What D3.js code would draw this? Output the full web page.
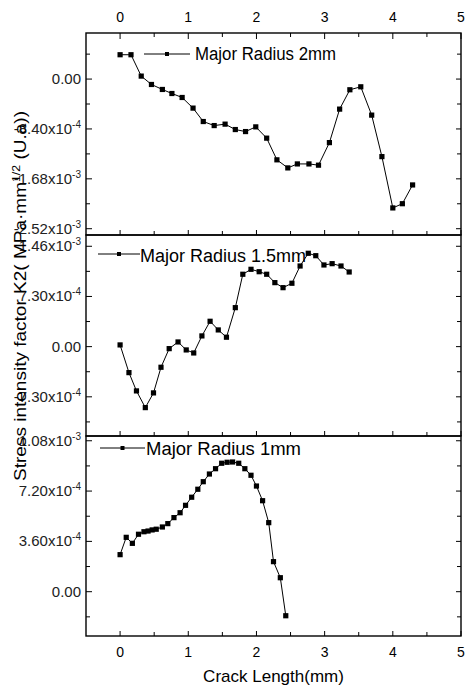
<!DOCTYPE html>
<html>
<head>
<meta charset="utf-8">
<script src="https://cdn.jsdelivr.net/npm/d3@7"></script>
<style>
  body { margin: 0; background: #fff; }
  svg { font-family: "Liberation Sans", Arial, sans-serif; }
</style>
</head>
<body>
<svg width="465" height="690"></svg>
<script>
// crack length (mm) and K2 values (x1e-4)
const xs2mm = [0, 0.16, 0.31, 0.46, 0.62, 0.76, 0.91, 1.07, 1.22, 1.38, 1.54, 1.69, 1.84, 1.99, 2.15, 2.30, 2.46, 2.60, 2.77, 2.91, 3.07, 3.22, 3.37, 3.53, 3.69, 3.84, 4.00, 4.14, 4.29];
const k2mm = [4.10, 4.10, 0.5, -0.91, -1.75, -2.43, -3.10, -4.89, -7.15, -7.83, -7.59, -8.50, -8.84, -8.05, -9.95, -13.6, -14.96, -14.29, -14.29, -14.5, -10.7, -5.06, -1.8, -1.3, -6.07, -13.06, -21.7, -20.99, -17.83];

const xs15mm = [0, 0.13, 0.24, 0.37, 0.49, 0.60, 0.72, 0.85, 0.97, 1.08, 1.20, 1.32, 1.44, 1.56, 1.69, 1.80, 1.92, 2.04, 2.15, 2.27, 2.39, 2.52, 2.64, 2.76, 2.87, 2.99, 3.11, 3.24, 3.36];
const k15mm = [0.25, -3.78, -6.44, -8.87, -6.73, -3.0, -0.29, 0.68, -0.48, -0.92, 1.56, 3.69, 2.43, 1.37, 5.67, 10.53, 11.25, 10.9, 10.53, 9.31, 8.58, 9.22, 11.73, 13.58, 13.23, 11.88, 12.07, 11.73, 10.86];

const xs1mm = [0, 0.09, 0.18, 0.27, 0.35, 0.41, 0.47, 0.53, 0.62, 0.70, 0.79, 0.88, 0.96, 1.05, 1.14, 1.22, 1.31, 1.40, 1.49, 1.57, 1.65, 1.74, 1.83, 1.92, 2.00, 2.09, 2.18, 2.25, 2.35, 2.43];
const k1mm = [2.65, 3.89, 3.46, 4.11, 4.29, 4.34, 4.42, 4.47, 4.63, 4.87, 5.30, 5.65, 6.18, 6.76, 7.33, 7.87, 8.42, 8.80, 9.19, 9.26, 9.28, 9.19, 8.80, 8.33, 7.56, 6.51, 4.94, 2.15, 1.00, -1.72];

// axis ticks
const xTicks = [0, 1, 2, 3, 4, 5];
const xMinor = [0.5, 1.5, 2.5, 3.5, 4.5];
const yTicks2mm = [0, -8.4e-4, -1.68e-3, -2.52e-3];
const yTicks15mm = [1.46e-3, 7.3e-4, 0, -7.3e-4];
const yTicks1mm = [1.08e-3, 7.2e-4, 3.6e-4, 0];

const legendNames = ["Major Radius 2mm", "Major Radius 1.5mm", "Major Radius 1mm"];

let svg = d3.select("svg");
let left = 86, right = 461;

let x = d3.scaleLinear().domain([-0.5, 5]).range([left, right]);

let panels = [
  { xs: xs2mm, ys: k2mm, top: 33, bottom: 235, dom: [-2.626e-3, 7.76e-4], ticks: yTicks2mm,
    leg: { y: 54, x0: 144, x1: 190, tx: 195, ty: 60, len: 141 } },
  { xs: xs15mm, ys: k15mm, top: 235, bottom: 436, dom: [-1.30e-3, 1.624e-3], ticks: yTicks15mm,
    leg: { y: 254, x0: 98, x1: 140, tx: 140, ty: 262, len: 166 } },
  { xs: xs1mm, ys: k1mm, top: 436, bottom: 636, dom: [-3.17e-4, 1.114e-3], ticks: yTicks1mm,
    leg: { y: 448, x0: 100, x1: 145, tx: 146, ty: 455, len: 155 } }
];

// "x10^n" style label
function fmtLabel(sel) {
  sel.each(function(v) {
    let t = d3.select(this);
    if (v === 0) { t.text("0.00"); return; }
    let [m, e] = v.toExponential(2).split("e");
    t.append("tspan").text(m + "x10");
    t.append("tspan").attr("dy", -6).style("font-size", "10px").text(String(+e));
  });
}

panels.forEach((p, i) => {
  let y = d3.scaleLinear().domain(p.dom).range([p.bottom, p.top]);
  let step = p.ticks[0] - p.ticks[1];
  let minors = d3.range(-6, 7).map(k => p.ticks[0] + (k + 0.5) * step)
    .filter(v => v > p.dom[0] && v < p.dom[1]);
  let majors = p.ticks.filter(v => v > p.dom[0] && v < p.dom[1]);

  let g = svg.append("g");

  // frame
  g.append("rect")
    .attr("x", left).attr("y", p.top)
    .attr("width", right - left).attr("height", p.bottom - p.top)
    .attr("fill", "none").attr("stroke", "#000").attr("stroke-width", 1.4);

  // left / right ticks (inward)
  g.selectAll(".yl").data(majors.map(v => [v, 6]).concat(minors.map(v => [v, 4])))
    .enter().append("line")
    .attr("x1", left).attr("x2", d => left + d[1])
    .attr("y1", d => y(d[0])).attr("y2", d => y(d[0]))
    .attr("stroke", "#000");
  g.selectAll(".yr").data(majors.map(v => [v, 5]).concat(minors.map(v => [v, 4])))
    .enter().append("line")
    .attr("x1", right).attr("x2", d => right - d[1])
    .attr("y1", d => y(d[0])).attr("y2", d => y(d[0]))
    .attr("stroke", "#000");

  // bottom ticks (pointing up)
  g.selectAll(".xb").data(xTicks.map(v => [v, 5]).concat(xMinor.map(v => [v, 4])))
    .enter().append("line")
    .attr("x1", d => x(d[0])).attr("x2", d => x(d[0]))
    .attr("y1", p.bottom).attr("y2", d => p.bottom - d[1])
    .attr("stroke", "#000");

  if (i === 0) {
    g.selectAll(".xt").data(xTicks.map(v => [v, 6]).concat(xMinor.map(v => [v, 4])))
      .enter().append("line")
      .attr("x1", d => x(d[0])).attr("x2", d => x(d[0]))
      .attr("y1", p.top).attr("y2", d => p.top + d[1])
      .attr("stroke", "#000");
    g.selectAll(".xtl").data(xTicks).enter().append("text")
      .attr("x", d => x(d)).attr("y", 22)
      .attr("text-anchor", "middle").style("font-size", "14px").text(d => d);
  }
  if (i === 2) {
    g.selectAll(".xbl").data(xTicks).enter().append("text")
      .attr("x", d => x(d)).attr("y", 657)
      .attr("text-anchor", "middle").style("font-size", "14px").text(d => d);
  }

  // y labels
  g.selectAll(".ylab").data(majors).enter().append("text")
    .attr("x", 81).attr("y", d => y(d) + 5)
    .attr("text-anchor", "end").style("font-size", "15px").attr("fill", "#222")
    .call(fmtLabel);

  // line + markers
  let pts = p.xs.map((v, k) => [v, p.ys[k] * 1e-4]);
  g.append("path")
    .datum(pts)
    .attr("fill", "none").attr("stroke", "#000").attr("stroke-width", 1)
    .attr("d", d3.line().x(d => x(d[0])).y(d => y(d[1])));
  g.selectAll(".pt").data(pts).enter().append("rect")
    .attr("x", d => x(d[0]) - 2.6).attr("y", d => y(d[1]) - 2.6)
    .attr("width", 5.2).attr("height", 5.2).attr("fill", "#000");

  // legend
  let L = p.leg;
  g.append("line").attr("x1", L.x0).attr("x2", L.x1).attr("y1", L.y).attr("y2", L.y)
    .attr("stroke", "#000");
  g.append("rect").attr("x", (L.x0 + L.x1) / 2 - 2).attr("y", L.y - 2)
    .attr("width", 4).attr("height", 4).attr("fill", "#000");
  g.append("text").attr("x", L.tx).attr("y", L.ty)
    .attr("textLength", L.len).attr("lengthAdjust", "spacingAndGlyphs")
    .style("font-size", "18px").text(legendNames[i]);
});

// axis titles
svg.append("text")
  .attr("x", (left + right) / 2).attr("y", 682)
  .attr("text-anchor", "middle").style("font-size", "17px")
  .text("Crack Length(mm)");

let yt = svg.append("text")
  .attr("transform", "translate(26,296) rotate(-90)")
  .attr("text-anchor", "middle").style("font-size", "17px")
  .attr("textLength", 370).attr("lengthAdjust", "spacingAndGlyphs");
yt.append("tspan").text("Stress intensity factor K2( MPa·mm");
yt.append("tspan").attr("dy", -6).style("font-size", "11px").text("1/2");
yt.append("tspan").attr("dy", 6).text(" (U.a))");
</script>
</body>
</html>
